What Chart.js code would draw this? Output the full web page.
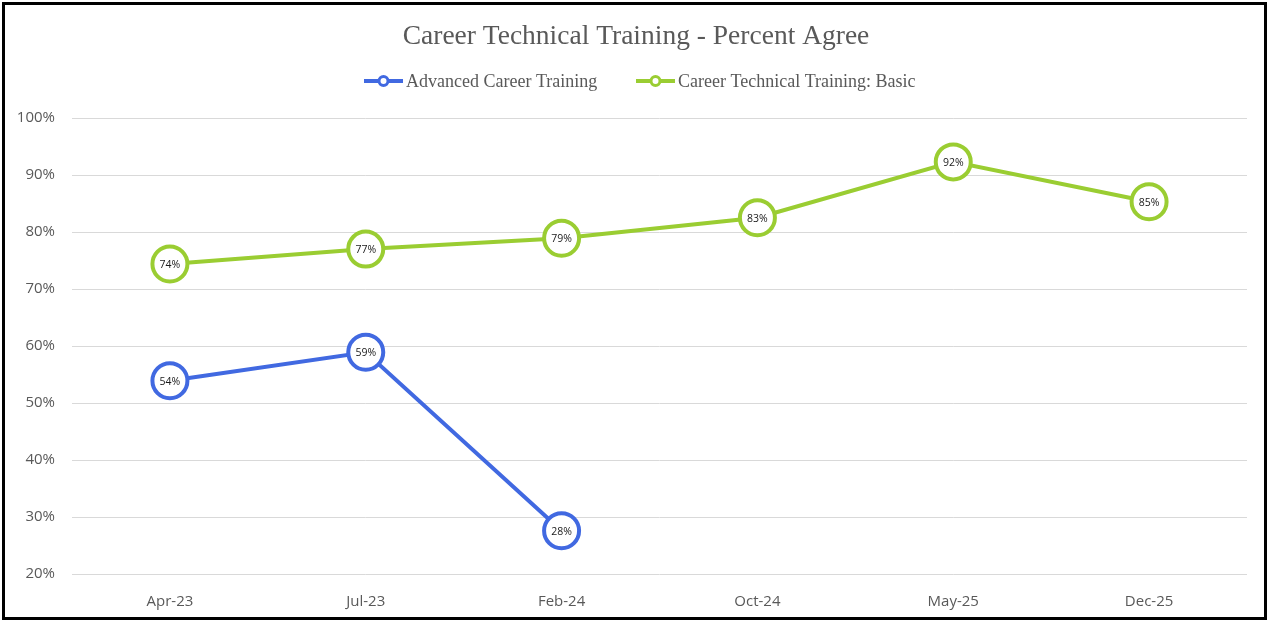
<!DOCTYPE html>
<html><head><meta charset="utf-8">
<script src="https://cdn.jsdelivr.net/npm/chart.js@4.4.1/dist/chart.umd.min.js"></script>
<style>
html,body{margin:0;padding:0;background:#fff;}
#wrap{position:relative;width:1269px;height:622px;}
#frame{position:absolute;left:2px;top:2px;width:1265px;height:618px;box-sizing:border-box;border:3px solid #000;pointer-events:none;}
canvas{position:absolute;left:0;top:0;}
</style></head>
<body>
<div id="wrap"><canvas id="c" width="1269" height="622"></canvas><div id="frame"></div></div>
<script>
const categories = ["Apr-23","Jul-23","Feb-24","Oct-24","May-25","Dec-25"];
const advancedValues = [53.9, 58.9, 27.6, null, null, null];
const basicValues = [74.4, 77.0, 78.9, 82.5, 92.3, 85.3];
const seriesNames = ["Advanced Career Training", "Career Technical Training: Basic"];
const seriesColors = ["#4169E1", "#9ACD32"];
const chartTitle = "Career Technical Training - Percent Agree";

const headerPlugin = {
  id: 'header',
  afterDraw(chart) {
    const ctx = chart.ctx;
    ctx.save();
    ctx.fillStyle = '#595959';
    ctx.font = '27.5px "Liberation Serif", "Times New Roman", serif';
    ctx.textAlign = 'center';
    ctx.textBaseline = 'middle';
    ctx.fillText(chartTitle, 636, 37);
    const items = [{x:364, name:seriesNames[0], color:seriesColors[0]},{x:636, name:seriesNames[1], color:seriesColors[1]}];
    ctx.font = '18px "Liberation Serif", "Times New Roman", serif';
    ctx.textAlign = 'left';
    items.forEach(it => {
      const y = 81;
      ctx.strokeStyle = it.color;
      ctx.lineWidth = 4;
      ctx.beginPath(); ctx.moveTo(it.x, y); ctx.lineTo(it.x+39, y); ctx.stroke();
      ctx.beginPath(); ctx.arc(it.x+19.5, y, 4.5, 0, Math.PI*2);
      ctx.fillStyle = '#fff'; ctx.fill();
      ctx.lineWidth = 3; ctx.stroke();
      ctx.fillStyle = '#595959';
      ctx.fillText(it.name, it.x+42, y+1);
    });
    ctx.restore();
  }
};

const labelPlugin = {
  id: 'pointLabels',
  afterDatasetsDraw(chart) {
    const ctx = chart.ctx;
    ctx.save();
    ctx.font = '10.5px "Open Sans", "DejaVu Sans", sans-serif';
    ctx.fillStyle = '#1a1a1a';
    ctx.textAlign = 'center';
    ctx.textBaseline = 'middle';
    chart.data.datasets.forEach((ds, i) => {
      const meta = chart.getDatasetMeta(i);
      meta.data.forEach((pt, j) => {
        const v = ds.data[j];
        if (v === null || v === undefined) return;
        ctx.fillText(Math.round(v) + '%', pt.x, pt.y + 1);
      });
    });
    ctx.restore();
  }
};

new Chart(document.getElementById('c'), {
  type: 'line',
  data: {
    labels: categories,
    datasets: [
      {label: seriesNames[0], data: advancedValues, borderColor: seriesColors[0], backgroundColor: '#fff',
       borderWidth: 4, pointRadius: 17.5, pointBorderWidth: 4, pointBackgroundColor: '#fff', pointBorderColor: seriesColors[0], spanGaps: false, tension: 0},
      {label: seriesNames[1], data: basicValues, borderColor: seriesColors[1], backgroundColor: '#fff',
       borderWidth: 4, pointRadius: 17.5, pointBorderWidth: 4, pointBackgroundColor: '#fff', pointBorderColor: seriesColors[1], tension: 0}
    ]
  },
  options: {
    responsive: false,
    animation: false,
    devicePixelRatio: 1,
    layout: {padding: {top: 118, right: 22, bottom: 0, left: 0}},
    plugins: {legend: {display: false}, title: {display: false}, tooltip: {enabled: false}},
    scales: {
      x: {
        offset: true,
        grid: {display: false},
        border: {display: false},
        ticks: {color: '#595959', font: {family: '"Open Sans", "DejaVu Sans", sans-serif', size: 15}, padding: 11},
        afterFit: (s) => { s.height = 48; }
      },
      y: {
        min: 20, max: 100,
        grid: {color: '#d9d9d9', lineWidth: 1, drawTicks: false},
        border: {display: false},
        ticks: {stepSize: 10, color: '#595959', font: {family: '"Open Sans", "DejaVu Sans", sans-serif', size: 15}, padding: 17,
          callback: (v) => v + '%'},
        afterFit: (s) => { s.width = 72; }
      }
    }
  },
  plugins: [headerPlugin, labelPlugin]
});
</script>
</body></html>
